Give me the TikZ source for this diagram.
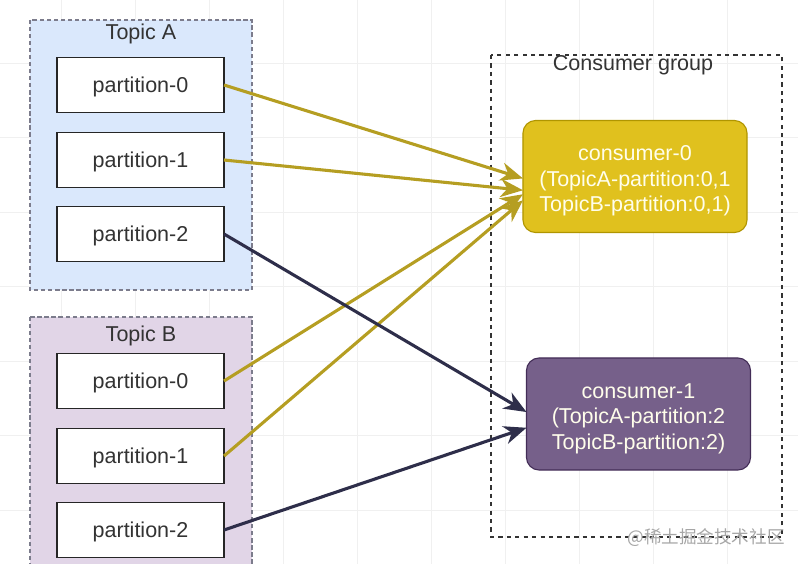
\documentclass[tikz,border=0pt]{standalone}
\usepackage{fontspec}
\setmainfont{Liberation Sans}
\newfontfamily\cjkfont{Noto Sans CJK SC}
\usepackage{tikz}
\usetikzlibrary{calc}
\usetikzlibrary{arrows.meta}

\definecolor{topicAfill}{HTML}{DAE8FC}
\definecolor{topicBfill}{HTML}{E1D5E7}
\definecolor{groupline}{HTML}{7C7C8C}
\definecolor{yellowfill}{HTML}{E0C11E}
\definecolor{yellowline}{HTML}{B09500}
\definecolor{purplefill}{HTML}{76608A}
\definecolor{purpleline}{HTML}{432D57}
\definecolor{goldarrow}{HTML}{B59E22}
\definecolor{navyarrow}{HTML}{2E2E4A}
\definecolor{inktext}{HTML}{333333}

\begin{document}
\begin{tikzpicture}
% one unit = one pixel of the reference, y pointing down
[
    x=0.025cm, y=-0.025cm,
    font=\fontsize{15.3}{18}\selectfont, text=inktext,
    topic/.style={draw=groupline, dash pattern=on 3pt off 2pt, line width=0.8pt},
    part/.style={draw=black!85, fill=white, line width=1.2pt,
      text height=12.5pt, text depth=2pt,
      minimum width=4.175cm, minimum height=1.375cm, inner sep=0pt, outer sep=0pt},
    consumer/.style={rounded corners=9pt, line width=0.8pt, align=center,
      text=white!92!yellow, minimum width=5.6cm, minimum height=2.8cm,
      inner sep=0pt, outer sep=0pt},
    feed/.style={line width=2.2pt, -{Stealth[length=16pt,width=13pt,inset=5pt]}},
]
\useasboundingbox (0,0) rectangle (798,564);
\clip (0,0) rectangle (798,564);

% background grid
\foreach \gx in {61,135,...,800}
  \draw[black!6, line width=0.5pt] (\gx,0) -- (\gx,564);
\foreach \gy in {63,137.5,...,570}
  \draw[black!6, line width=0.5pt] (0,\gy) -- (798,\gy);

% topic A
\draw[topic, fill=topicAfill] (30,20) rectangle (252,290);
\node (topicA) at (141,34) {Topic A};
\node[part] (a0) at (140.5,85) {partition-0};
\node[part] (a1) at (140.5,160) {partition-1};
\node[part] (a2) at (140.5,234) {partition-2};

% topic B
\draw[topic, fill=topicBfill] (30,317) rectangle (252,600);
\node (topicB) at (141,336) {Topic B};
\node[part] (b0) at (140.5,381) {partition-0};
\node[part] (b1) at (140.5,456) {partition-1};
\node[part] (b2) at (140.5,530) {partition-2};

% consumer group
\draw[dashed, line width=1.1pt, black!80] (491,55) rectangle (782,537);
\node (grp) at (633,65) {Consumer group};
\node[consumer, fill=yellowfill, draw=yellowline] (c0) at (635,176.5)
  {\rule{0pt}{17pt}consumer-0\\(TopicA-partition:0,1\\TopicB-partition:0,1)};
\node[consumer, fill=purplefill, draw=purpleline] (c1) at (638.5,414)
  {\rule{0pt}{17pt}consumer-1\\(TopicA-partition:2\\TopicB-partition:2)};

% assignments
\draw[feed, goldarrow] (a0.east) -- (c0.181);
\draw[feed, goldarrow] (a1.east) -- (c0.187);
\draw[feed, goldarrow] (b0.east) -- (c0.189);
\draw[feed, goldarrow] (b1.east) -- (c0.192);
\draw[feed, navyarrow] (a2.east) -- (c1.179);
\draw[feed, navyarrow] (b2.east) -- (c1.187);

% watermark
\node[text=black!35, font=\cjkfont\fontsize{12.5}{14}\selectfont] (mark) at (706,538) {@稀土掘金技术社区};
\end{tikzpicture}
\end{document}
